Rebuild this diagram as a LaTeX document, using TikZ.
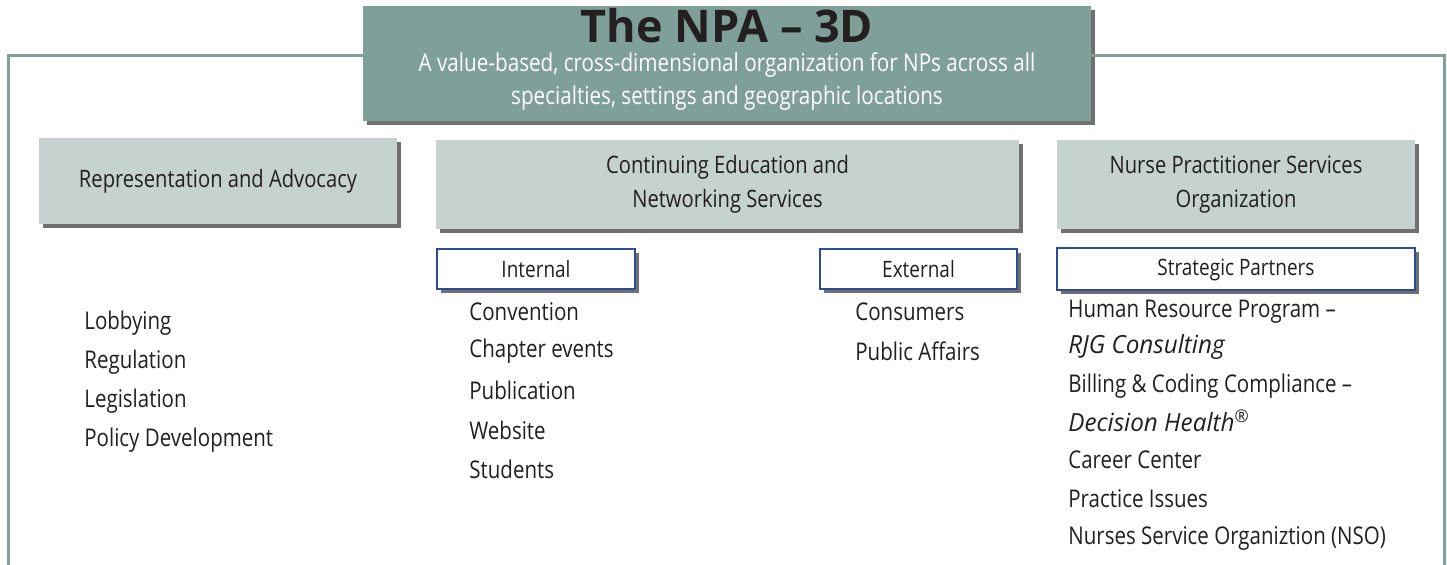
\documentclass[tikz,border=0pt]{standalone}
\usepackage{fontspec}
\setmainfont{Open Sans}[FakeStretch=0.84]
\newfontfamily\titlefont{Open Sans}[FakeStretch=1.0]
\newfontfamily\itfont{Open Sans Italic}[FakeStretch=0.97]
\usetikzlibrary{shadows}
\definecolor{teal}{HTML}{7F9F99}
\definecolor{frame}{HTML}{7FA09A}
\definecolor{pale}{HTML}{C5D2CF}
\definecolor{bluebd}{HTML}{2B4C9B}
\definecolor{txt}{HTML}{231F20}
\tikzset{
  shad/.style={drop shadow={shadow xshift=2pt,shadow yshift=-2pt,fill=black!70,opacity=0.8}},
  titlebox/.style={fill=teal,shad,inner sep=0,minimum width=364pt,minimum height=57.5pt},
  catbox/.style={fill=pale,shad,inner sep=0,align=center,text=txt,font=\fontsize{12}{17}\selectfont},
  subbox/.style={fill=white,draw=bluebd,line width=1pt,shad,inner sep=0,minimum height=20pt,text=txt,font=\fontsize{11.3}{13}\selectfont},
  item/.style={anchor=west,inner sep=0,text=txt,font=\fontsize{12.2}{14}\selectfont},
  frameline/.style={draw=frame,line width=1.5pt}
}
\begin{document}
\begin{tikzpicture}[x=0.5pt,y=-0.5pt]
\useasboundingbox (0,0) rectangle (1447,565);
% frame
\coordinate (fl) at (8,565);
\coordinate (fr) at (1444,565);
\coordinate (ftl) at (8,56);
\coordinate (ftr) at (1444,56);
\node[titlebox] (title) at (727,63.5) {};
\draw[frameline] (title.west |- ftl) -- (ftl) -- (fl);
\draw[frameline] (title.east |- ftr) -- (ftr) -- (fr);
\node[inner sep=0,text=txt,font=\titlefont\fontsize{22.5}{24}\bfseries\selectfont] (tt) at (727,26) {The NPA – 3D};
\node[inner sep=0,text=white,align=center,font=\fontsize{12.3}{16.5}\selectfont] (ts) at (727,82) {A value-based, cross-dimensional organization for NPs across all\\specialties, settings and geographic locations};
% category boxes
\node[catbox,minimum width=179pt,minimum height=43pt] (rep) at (218,181) {Representation and Advocacy};
\node[catbox,minimum width=291.5pt,minimum height=44.5pt] (ce) at (727.5,184.5) {Continuing Education and\\Networking Services};
\node[catbox,minimum width=179pt,minimum height=44.5pt] (nps) at (1236,184.5) {Nurse Practitioner Services\\Organization};
% sub boxes
\node[subbox,minimum width=99pt] (int) at (536,269) {Internal};
\node[subbox,minimum width=98.5pt] (ext) at (918.5,269) {External};
\node[subbox,minimum width=179pt,minimum height=21pt] (sp) at (1236,269.5) {Strategic Partners};
% left list
\node[item] (l1) at (84,323) {Lobbying};
\node[item] (l2) at (84,362) {Regulation};
\node[item] (l3) at (84,401) {Legislation};
\node[item] (l4) at (84,440) {Policy Development};
% internal list
\node[item] (i1) at (469,312) {Convention};
\node[item] (i2) at (469,351) {Chapter events};
\node[item] (i3) at (469,390) {Publication};
\node[item] (i4) at (469,430) {Website};
\node[item] (i5) at (469,469) {Students};
% external list
\node[item] (e1) at (855,312) {Consumers};
\node[item] (e2) at (855,351) {Public Affairs};
% strategic list
\node[item] (s1) at (1068,312) {Human Resource Program –};
\node[item] (s2) at (1068,347) {\itfont\fontsize{12.5}{14}\selectfont RJG Consulting};
\node[item] (s3) at (1068,386) {Billing \& Coding Compliance –};
\node[item] (s4) at (1068,421) {\itfont\fontsize{12.5}{14}\selectfont Decision Health\textsuperscript{®}};
\node[item] (s5) at (1068,460) {Career Center};
\node[item] (s6) at (1068,499) {Practice Issues};
\node[item] (s7) at (1068,538) {Nurses Service Organiztion (NSO)};
\end{tikzpicture}
\end{document}
